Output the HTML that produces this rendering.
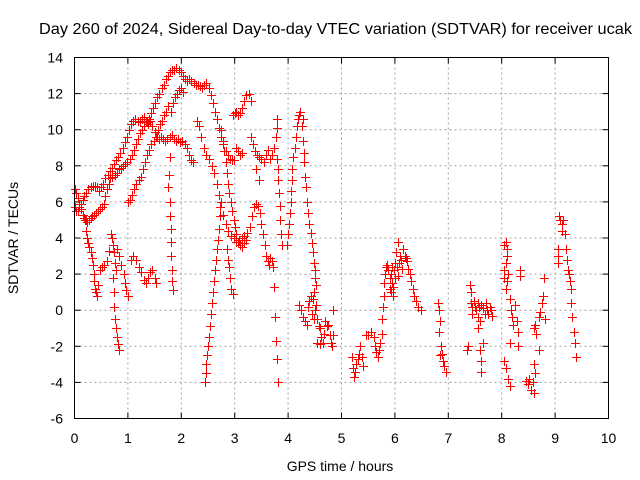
<!DOCTYPE html>
<html><head><meta charset="utf-8"><style>
html,body{margin:0;padding:0;background:#fff;}
svg{display:block;font-family:"Liberation Sans",sans-serif;}
</style></head><body>
<svg id="chart" width="640" height="480" viewBox="0 0 640 480" xmlns="http://www.w3.org/2000/svg">
<rect x="0" y="0" width="640" height="480" fill="#fff"/>
<text x="39" y="34" font-size="16" textLength="593" lengthAdjust="spacingAndGlyphs" fill="#000">Day 260 of 2024, Sidereal Day-to-day VTEC variation (SDTVAR) for receiver ucak</text>
<g id="grid"></g>
<g id="ticks"></g>
<g id="marks"></g>
<rect x="74.5" y="57.5" width="534" height="361" fill="none" stroke="#000" stroke-width="1"/>
<text x="340" y="471" font-size="14" text-anchor="middle">GPS time / hours</text>
<text x="18" y="238" font-size="14" text-anchor="middle" transform="rotate(-90 18 238)">SDTVAR / TECUs</text>
</svg>
<script>
const xTicks=[0,1,2,3,4,5,6,7,8,9,10];
const yTicks=[-6,-4,-2,0,2,4,6,8,10,12,14];
const traceLoopA=[[0,6.7],[0.03,6.5],[0.06,6.2],[0.09,5.9],[0.12,5.6],[0.15,5.3],[0.18,5.1],[0.21,5.0],[0.24,4.9],[0.27,5.0],[0.3,5.1],[0.33,5.2],[0.36,5.3],[0.4,5.4],[0.44,5.5],[0.48,5.6],[0.52,5.7],[0.55,5.9],[0.58,6.3],[0.61,6.7],[0.64,7.0],[0.67,7.3],[0.71,7.4],[0.75,7.5],[0.79,7.6],[0.83,7.8],[0.87,7.9],[0.91,8.0],[0.95,8.1],[0.99,8.2],[1.03,8.4],[1.07,8.6],[1.11,8.9],[1.15,9.2],[1.19,9.5],[1.23,9.8],[1.27,10.0],[1.31,10.2],[1.35,10.4],[1.39,10.6],[1.43,10.9],[1.47,11.2],[1.51,11.5],[1.55,11.8],[1.59,12.0],[1.63,12.3],[1.67,12.5],[1.71,12.8],[1.75,13.0],[1.79,13.2],[1.83,13.3],[1.87,13.3],[1.91,13.4],[1.95,13.3],[1.99,13.2],[2.03,13.0],[2.07,12.8],[2.11,12.7],[2.15,12.8],[2.19,12.7],[2.23,12.6],[2.27,12.5],[2.31,12.5],[2.35,12.4],[2.39,12.3],[2.43,12.5],[2.47,12.6],[2.51,12.3],[2.55,11.9],[2.59,11.5],[2.63,11.0],[2.67,10.6],[2.71,10.1],[2.75,9.6],[2.79,9.2],[2.83,8.8],[2.87,8.6],[2.91,8.4],[2.95,8.3],[2.99,8.3]];
const traceLoopB=[[0,5.7],[0.03,5.5],[0.06,5.5],[0.09,5.7],[0.12,5.9],[0.15,6.1],[0.18,6.3],[0.22,6.5],[0.26,6.7],[0.3,6.8],[0.34,6.9],[0.38,6.9],[0.42,6.8],[0.46,6.6],[0.5,6.8],[0.54,7.0],[0.58,7.3],[0.62,7.5],[0.66,7.7],[0.7,7.9],[0.74,8.1],[0.78,8.3],[0.82,8.5],[0.86,8.7],[0.9,9.0],[0.94,9.3],[0.98,9.6],[1.02,10.0],[1.06,10.3],[1.1,10.5],[1.14,10.6],[1.18,10.5],[1.22,10.4],[1.26,10.6],[1.3,10.7],[1.34,10.5],[1.38,10.3],[1.42,10.5],[1.46,10.2],[1.5,9.9],[1.54,9.6],[1.58,9.5],[1.62,9.6],[1.66,9.5],[1.7,9.4],[1.74,9.5],[1.78,9.6],[1.82,9.7],[1.86,9.5],[1.9,9.4],[1.94,9.5],[1.98,9.3],[2.02,9.4],[2.06,9.2],[2.1,9.0],[2.14,8.6],[2.18,8.3],[2.22,8.2]];
const traceRiseC=[[1.0,6.0],[1.04,6.1],[1.08,6.4],[1.12,6.7],[1.16,7.0],[1.2,7.2],[1.24,7.4],[1.28,7.8],[1.32,8.2],[1.36,8.6],[1.4,8.9],[1.44,9.2],[1.48,9.4],[1.52,9.6],[1.56,10.0],[1.6,10.3],[1.64,10.5],[1.68,10.8],[1.72,11.0],[1.76,11.3],[1.8,11.0],[1.84,11.5],[1.88,11.8],[1.92,12.0],[1.96,12.2],[2.0,12.3],[2.04,12.1]];
const traceDropLeft=[[0.2,5.0],[0.22,4.4],[0.24,4.0],[0.26,3.7],[0.28,3.5],[0.3,3.2],[0.33,2.9],[0.35,2.5],[0.36,2.0],[0.37,1.6],[0.38,1.2],[0.4,1.0],[0.42,0.8],[0.44,1.4],[0.48,2.2],[0.52,2.4],[0.56,2.5],[0.6,2.7],[0.64,3.3],[0.68,4.2],[0.7,4.0],[0.72,3.6],[0.74,3.2],[0.76,2.6],[0.78,2.2],[0.8,3.4],[0.84,3.0],[0.88,2.5],[0.92,2.0],[0.95,1.5],[0.97,1.1],[1.0,0.8],[1.05,2.8],[1.1,3.0],[1.15,2.8],[1.2,2.4],[1.25,2.1],[1.3,1.7],[1.33,1.5],[1.37,1.8],[1.41,2.1],[1.45,2.2],[1.5,1.8],[1.52,1.5]];
const traceDropMid=[[0.73,1.8],[0.74,1.0],[0.74,0.2],[0.76,-0.5],[0.78,-1.0],[0.8,-1.5],[0.82,-1.9],[0.84,-2.2],[1.78,8.5],[1.77,7.5],[1.76,6.8],[1.78,6.0],[1.79,5.2],[1.8,4.5],[1.8,3.8],[1.81,3.0],[1.82,2.2],[1.82,1.6],[1.84,1.1]];
const traceFallF=[[2.3,10.5],[2.33,10.2],[2.37,9.6],[2.42,9.0],[2.47,8.6],[2.52,8.4],[2.57,8.0],[2.62,7.6],[2.66,7.0],[2.7,6.4],[2.73,5.7],[2.78,5.3],[2.83,4.8],[2.88,4.4],[2.93,4.1],[2.98,4.0],[3.03,3.8],[3.08,3.9],[3.13,4.0],[3.18,4.1],[3.23,4.3],[3.28,4.6],[3.32,5.2],[3.36,5.7],[3.4,5.9],[3.44,5.8],[3.47,5.4],[3.5,4.8],[3.53,4.2],[3.56,3.6],[3.59,3.0],[3.62,2.7],[3.65,2.5],[3.67,2.9],[3.7,2.7],[3.72,2.4],[3.74,1.3],[3.76,-0.4],[3.78,-1.7],[3.8,-2.7],[3.82,-4.0]];
const traceFallG=[[2.75,6.0],[2.73,5.2],[2.71,4.5],[2.69,3.9],[2.67,3.4],[2.65,2.8],[2.63,2.2],[2.61,1.6],[2.59,1.0],[2.57,0.4],[2.55,-0.2],[2.53,-0.9],[2.52,-1.5],[2.5,-2.0],[2.49,-2.5],[2.47,-3.0],[2.46,-3.5],[2.45,-4.0]];
const traceFallH=[[2.75,10.0],[2.78,9.4],[2.8,8.8],[2.83,8.2],[2.85,7.6],[2.88,7.0],[2.9,6.5],[2.93,6.0],[2.95,5.5],[2.98,5.0],[3.0,4.6],[3.03,4.2],[3.06,3.8],[3.1,3.6],[3.14,3.5],[3.18,3.7],[3.22,3.9],[2.86,3.4],[2.88,2.8],[2.9,2.4],[2.92,1.8],[2.94,1.2],[2.96,0.9]];
const traceRidge=[[2.97,10.8],[3.0,10.9],[3.03,11.0],[3.06,10.8],[3.1,10.9],[3.14,11.2],[3.18,11.6],[3.22,11.9],[3.26,12.0],[3.3,11.6],[3.02,9.0],[3.06,8.8],[3.1,8.6],[3.14,8.7],[3.3,9.6],[3.34,9.2],[3.38,8.8],[3.42,8.6],[3.46,8.5],[3.5,8.4],[3.54,8.2],[3.58,8.6],[3.62,8.9],[3.66,8.4],[3.7,8.6],[3.74,9.0],[3.77,9.6],[3.8,10.1],[3.79,10.6],[3.8,8.4],[3.81,7.8],[3.82,7.2],[3.83,6.5],[3.84,5.8],[3.85,5.0],[3.86,4.2],[3.88,3.6],[3.4,7.8],[3.45,7.2]];
const traceNear4=[[4.23,11.0],[4.21,10.8],[4.18,10.6],[4.16,10.2],[4.14,9.6],[4.12,9.0],[4.1,8.5],[4.08,7.8],[4.07,7.2],[4.06,6.6],[4.05,6.0],[4.03,5.4],[4.01,4.8],[4.0,4.2],[3.98,3.6],[4.28,10.6],[4.26,10.2],[4.28,9.4],[4.3,8.7],[4.3,8.2],[4.32,7.4],[4.34,6.8],[4.36,6.0],[4.38,5.4],[4.4,4.8],[4.42,4.3],[4.44,3.7],[4.46,3.2],[4.48,2.6],[4.5,2.2],[4.5,1.8],[4.52,1.4],[4.48,1.0],[4.46,0.6]];
const cluster45=[[4.2,0.3],[4.25,0.0],[4.28,-0.4],[4.32,-0.6],[4.35,-0.8],[4.38,0.2],[4.4,0.5],[4.42,0.8],[4.45,-0.2],[4.48,-0.5],[4.5,0.0],[4.52,0.3],[4.55,-0.5],[4.58,-0.9],[4.6,-1.0],[4.62,-1.5],[4.65,-1.8],[4.68,-1.3],[4.7,-0.6],[4.72,-0.9],[4.75,-0.8],[4.78,-1.4],[4.8,-1.8],[4.82,-2.0],[4.85,-1.4],[4.85,0.0],[4.55,-1.8],[4.6,-1.9]];
const cluster55=[[5.2,-2.6],[5.22,-3.2],[5.24,-3.7],[5.26,-3.4],[5.28,-3.0],[5.3,-2.7],[5.32,-2.4],[5.35,-2.0],[5.38,-2.6],[5.4,-3.1],[5.45,-1.4],[5.5,-1.4],[5.55,-1.2],[5.6,-1.5],[5.62,-2.0],[5.65,-2.3],[5.68,-2.6],[5.7,-2.2],[5.73,-1.8],[5.75,-1.3],[5.76,-0.5],[5.78,0.2],[5.8,0.8],[5.8,1.5],[5.82,2.0],[5.84,2.4]];
const cluster6=[[5.86,2.5],[5.88,2.2],[5.9,1.8],[5.9,1.2],[5.92,1.0],[5.92,2.0],[5.94,2.4],[5.95,1.5],[5.96,0.8],[5.97,1.3],[5.98,2.2],[6.0,1.8],[6.0,2.6],[6.02,3.2],[6.04,2.4],[6.05,3.8],[6.06,1.9],[6.08,2.6],[6.1,3.0],[6.12,2.8],[6.14,2.3],[6.16,3.4],[6.18,3.0],[6.2,2.9],[6.22,2.7],[6.25,2.3],[6.28,2.0],[6.3,1.6],[6.33,1.2],[6.36,0.8],[6.4,0.5],[6.44,0.2],[6.48,0.0]];
const cluster7=[[6.8,0.4],[6.82,0.0],[6.84,-0.6],[6.82,-1.2],[6.86,-2.0],[6.85,-2.5],[6.88,-2.4],[6.9,-2.8],[6.92,-3.1],[6.95,-3.4],[7.35,-2.2],[7.37,-2.0],[7.4,1.4],[7.42,1.0],[7.42,0.4],[7.45,-0.2],[7.45,0.2],[7.48,0.5],[7.5,0.2],[7.52,0.0],[7.55,0.4],[7.55,-0.4],[7.58,0.2],[7.6,-0.6],[7.62,0.3],[7.65,0.1],[7.68,-0.2],[7.7,0.4],[7.72,0.0],[7.75,-0.2],[7.78,0.2],[7.8,0.0],[7.82,-0.3],[7.6,-2.2],[7.62,-2.8],[7.65,-1.8],[7.62,-3.4],[7.55,-1.0]];
const cluster8=[[8.05,3.6],[8.08,3.8],[8.1,3.4],[8.1,3.0],[8.08,2.6],[8.05,2.2],[8.05,1.8],[8.1,1.6],[8.08,1.2],[8.12,2.0],[8.15,0.6],[8.18,0.0],[8.2,-0.4],[8.22,-0.8],[8.25,0.3],[8.28,-0.6],[8.3,-1.2],[8.15,-1.8],[8.05,-2.8],[8.08,-3.2],[8.12,-3.8],[8.15,-4.2],[8.35,1.9],[8.35,2.2],[8.3,-2.0],[8.45,-3.9],[8.5,-4.1],[8.52,-3.8],[8.55,-4.4],[8.58,-4.0],[8.6,-4.6],[8.62,-3.5],[8.6,-3.0],[8.6,-1.0],[8.62,-0.8],[8.65,-1.3],[8.7,-0.4],[8.72,-0.1],[8.75,0.4],[8.78,0.8],[8.8,1.8],[8.82,-0.5],[8.7,-2.2]];
const cluster9=[[9.08,5.2],[9.1,5.0],[9.12,4.8],[9.13,4.4],[9.15,5.0],[9.05,3.4],[9.05,3.0],[9.05,2.6],[9.18,4.2],[9.2,3.4],[9.22,2.8],[9.24,2.2],[9.26,2.0],[9.28,1.6],[9.3,1.2],[9.3,0.4],[9.32,-0.4],[9.35,-1.2],[9.38,-1.8],[9.4,-2.6]];
const allTraces=[traceLoopA,traceLoopB,traceRiseC,traceDropLeft,traceDropMid,traceFallF,traceFallG,traceFallH,traceRidge,traceNear4,cluster45,cluster55,cluster6,cluster7,cluster8,cluster9];

const X0=74.5,X1=608.5,Y0=418.5,Y1=57.5;
function xs(h){return X0+(h-0)/(10-0)*(X1-X0);}
function ys(v){return Y0-(v-(-6))/(14-(-6))*(Y0-Y1);}
const NS='http://www.w3.org/2000/svg';
function mk(tag,attrs,parent){const e=document.createElementNS(NS,tag);for(const k in attrs)e.setAttribute(k,attrs[k]);parent.appendChild(e);return e;}
const grid=document.getElementById('grid'),ticks=document.getElementById('ticks'),marks=document.getElementById('marks');
xTicks.forEach(t=>{
  const x=xs(t);
  if(t>0&&t<10){const g=mk('line',{x1:x,y1:Y1,x2:x,y2:Y0,stroke:'#a0a0a0','stroke-dasharray':'2,3'},grid);
  
  }
  mk('line',{x1:x,y1:Y0,x2:x,y2:Y0-6,stroke:'#000'},ticks);
  mk('line',{x1:x,y1:Y1,x2:x,y2:Y1+6,stroke:'#000'},ticks);
  const l=mk('text',{x:x,y:443,'font-size':14,'text-anchor':'middle'},ticks);l.textContent=t;
  
  
});
yTicks.forEach(t=>{
  const y=ys(t);
  if(t>-6&&t<14){const g=mk('line',{x1:X0,y1:y,x2:X1,y2:y,stroke:'#a0a0a0','stroke-dasharray':'2,3'},grid);
  
  }
  mk('line',{x1:X0,y1:y,x2:X0+6,y2:y,stroke:'#000'},ticks);
  mk('line',{x1:X1,y1:y,x2:X1-6,y2:y,stroke:'#000'},ticks);
  const l=mk('text',{x:63,y:y+5,'font-size':14,'text-anchor':'end'},ticks);l.textContent=t;
  
  
});
let d='';
allTraces.forEach(tr=>tr.forEach(p=>{const x=Math.round(xs(p[0]))+0.5,y=Math.round(ys(p[1]))+0.5;d+=`M${x-4.5} ${y}h9M${x} ${y-4.5}v9`;}));
const path=mk('path',{d:d,stroke:'#ff0000','stroke-width':1.2,fill:'none','shape-rendering':'crispEdges'},marks);


</script>
</body></html>
